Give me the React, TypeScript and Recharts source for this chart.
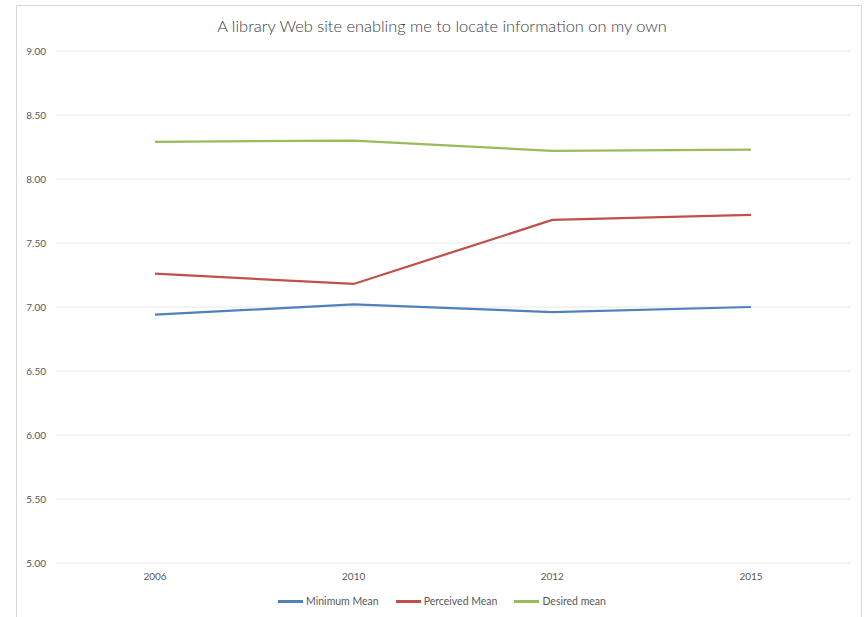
import { LineChart, Line, XAxis, YAxis, CartesianGrid, Legend } from "recharts";

const years = ["2006", "2010", "2012", "2015"];
const minimumMean = [6.94, 7.02, 6.96, 7.0];
const perceivedMean = [7.26, 7.18, 7.68, 7.72];
const desiredMean = [8.29, 8.3, 8.22, 8.23];
const yTicks = [5, 5.5, 6, 6.5, 7, 7.5, 8, 8.5, 9];

const series = [
  { key: "minimum", name: "Minimum Mean", color: "#4F81BD" },
  { key: "perceived", name: "Perceived Mean", color: "#C0504D" },
  { key: "desired", name: "Desired mean", color: "#9BBB59" },
];

const data = years.map((year, i) => ({
  year,
  minimum: minimumMean[i],
  perceived: perceivedMean[i],
  desired: desiredMean[i],
}));

const FONT = "Lato, 'Open Sans', sans-serif";

const LegendContent = () => (
  <div
    style={{
      display: "flex",
      justifyContent: "center",
      gap: 17,
      fontFamily: FONT,
      fontSize: 10.5,
      color: "#595959",
      paddingLeft: 34,
    }}
  >
    {series.map((s) => (
      <div key={s.key} style={{ display: "flex", alignItems: "center" }}>
        <span
          style={{
            display: "inline-block",
            width: 25,
            height: 3,
            background: s.color,
            marginRight: 3,
          }}
        />
        {s.name}
      </div>
    ))}
  </div>
);

export default function App() {
  return (
    <div style={{ position: "absolute", left: 0, top: 0, width: 864, height: 617, background: "#fff", overflow: "hidden" }}>
      {/* outer chart frame */}
      <div
        style={{
          position: "absolute",
          left: 16,
          top: 5,
          width: 846,
          height: 640,
          border: "1px solid #D9D9D9",
          boxSizing: "border-box",
        }}
      />
      <div
        style={{
          position: "absolute",
          left: 0,
          top: 16,
          width: 884,
          textAlign: "center",
          fontFamily: FONT,
          fontSize: 16.4,
          fontWeight: 300,
          color: "#404040",
        }}
      >
        A library Web site enabling me to locate information on my own
      </div>
      <div style={{ position: "absolute", left: 0, top: 0 }}>
        <LineChart width={864} height={617} data={data} margin={{ top: 51, right: 14, bottom: 2, left: 0 }}>
          <CartesianGrid stroke="#E6E6E6" vertical={false} />
          <XAxis
            dataKey="year"
            padding={{ left: 99, right: 99 }}
            axisLine={false}
            tickLine={false}
            tick={{ fill: "#595959", fontSize: 10, fontFamily: FONT }}
            tickMargin={4}
            height={32}
          />
          <YAxis
            domain={[5, 9]}
            ticks={yTicks}
            width={56}
            axisLine={false}
            tickLine={false}
            tickSize={8}
            tickFormatter={(v: number) => v.toFixed(2)}
            tick={{ fill: "#595959", fontSize: 10, fontFamily: FONT }}
          />
          <Legend verticalAlign="bottom" height={20} content={<LegendContent />} />
          {series.map((s) => (
            <Line
              key={s.key}
              type="linear"
              dataKey={s.key}
              name={s.name}
              stroke={s.color}
              strokeWidth={2.25}
              dot={false}
              isAnimationActive={false}
            />
          ))}
        </LineChart>
      </div>
    </div>
  );
}
